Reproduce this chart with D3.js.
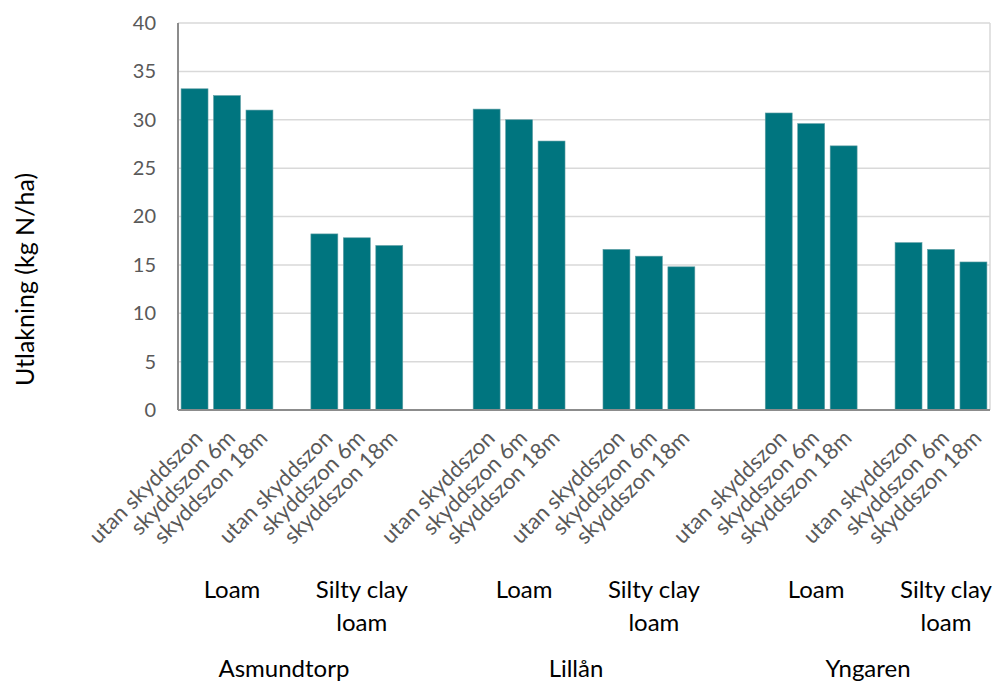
<!DOCTYPE html>
<html>
<head>
<meta charset="utf-8">
<script src="https://cdn.jsdelivr.net/npm/d3@7"></script>
<style>
  body { margin: 0; background: #fff; }
  svg { display: block; font-family: Lato, "Liberation Sans", sans-serif; }
</style>
</head>
<body>
<svg id="chart"></svg>
<script>
var width = 1004
var height = 684

// data
var sites = ["Asmundtorp", "Lillån", "Yngaren"]
var soils = ["Loam", "Silty clay loam"]
var zones = ["utan skyddszon", "skyddszon 6m", "skyddszon 18m"]

var asmundtorpLoam  = [33.2, 32.5, 31.0]
var asmundtorpSilty = [18.2, 17.8, 17.0]
var lillanLoam      = [31.1, 30.0, 27.8]
var lillanSilty     = [16.6, 15.9, 14.8]
var yngarenLoam     = [30.7, 29.6, 27.3]
var yngarenSilty    = [17.3, 16.6, 15.3]

var yTicks = [0, 5, 10, 15, 20, 25, 30, 35, 40]

var seriesBySite = [
	[asmundtorpLoam, asmundtorpSilty],
	[lillanLoam, lillanSilty],
	[yngarenLoam, yngarenSilty]
]

var barColor = "#00757f"
var gridColor = "#d9d9d9"
var axisColor = "#8c8c8c"
var tickColor = "#595959"

var plotLeft = 178, plotRight = 990, plotTop = 23, plotBottom = 410

var svg = d3.select("#chart")
	.attr("width", width)
	.attr("height", height)

// build the category slots, with empty slots between soil groups and sites
var slots = []
var bars = []
var soilGroups = []
var siteGroups = []
var gapCount = 0
sites.forEach(function(site, si){
	var siteKeys = []
	soils.forEach(function(soil, so){
		var soilKeys = []
		zones.forEach(function(zone, zi){
			var key = site + "|" + soil + "|" + zone
			slots.push(key)
			soilKeys.push(key)
			siteKeys.push(key)
			bars.push({key: key, zone: zone, value: seriesBySite[si][so][zi]})
		})
		soilGroups.push({label: soil, keys: soilKeys})
		if (so < soils.length - 1) { slots.push("gap" + (gapCount++)) }
	})
	siteGroups.push({label: site, keys: siteKeys})
	if (si < sites.length - 1) {
		slots.push("gap" + (gapCount++))
		slots.push("gap" + (gapCount++))
	}
})

var xScale = d3.scaleBand()
	.domain(slots)
	.range([plotLeft, plotRight])
	.paddingInner(0.17)
	.paddingOuter(0.095)

var yScale = d3.scaleLinear()
	.domain([0, 40])
	.range([plotBottom, plotTop])

// gridlines
svg.append("g")
	.selectAll("line")
	.data(yTicks.slice(1))
	.join("line")
	.attr("x1", plotLeft)
	.attr("x2", plotRight)
	.attr("y1", function(d){ return yScale(d) })
	.attr("y2", function(d){ return yScale(d) })
	.attr("stroke", gridColor)
	.attr("stroke-width", 1.5)

// right border of plot area
svg.append("line")
	.attr("x1", plotRight).attr("x2", plotRight)
	.attr("y1", plotTop).attr("y2", plotBottom)
	.attr("stroke", gridColor)
	.attr("stroke-width", 1.5)

// bars
svg.append("g")
	.selectAll("rect")
	.data(bars)
	.join("rect")
	.attr("x", function(d){ return xScale(d.key) })
	.attr("width", xScale.bandwidth())
	.attr("y", function(d){ return yScale(d.value) })
	.attr("height", function(d){ return yScale(0) - yScale(d.value) })
	.attr("fill", barColor)
	.attr("stroke", "#5f9ea4")
	.attr("stroke-width", 0.6)

// axis lines
svg.append("line")
	.attr("x1", plotLeft).attr("x2", plotLeft)
	.attr("y1", plotTop).attr("y2", plotBottom)
	.attr("stroke", axisColor)
	.attr("stroke-width", 2)
svg.append("line")
	.attr("x1", plotLeft).attr("x2", plotRight)
	.attr("y1", plotBottom).attr("y2", plotBottom)
	.attr("stroke", axisColor)
	.attr("stroke-width", 2)

// y tick labels
var yAxis = svg.append("g")
	.attr("transform", "translate(" + plotLeft + ",0)")
	.call(d3.axisLeft(yScale).tickValues(yTicks).tickSize(0).tickPadding(22))
yAxis.select(".domain").remove()
yAxis.selectAll("text")
	.attr("fill", tickColor)
	.style("font-size", "20px")
	.style("font-family", "Lato, sans-serif")

// y axis title
svg.append("text")
	.attr("transform", "translate(34," + ((plotTop + plotBottom) / 2 + 63) + ") rotate(-90)")
	.attr("text-anchor", "middle")
	.attr("fill", "#000")
	.style("font-size", "25px")
	.text("Utlakning (kg N/ha)")

// rotated zone labels
svg.append("g")
	.selectAll("text")
	.data(bars)
	.join("text")
	.attr("transform", function(d){
		var cx = xScale(d.key) + xScale.bandwidth() / 2 + 4
		return "translate(" + cx + ",434) rotate(-45)"
	})
	.attr("text-anchor", "end")
	.attr("dy", "0.35em")
	.attr("fill", tickColor)
	.style("font-size", "22px")
	.text(function(d){ return d.zone })

function groupCenter(keys){
	var a = xScale(keys[0])
	var b = xScale(keys[keys.length - 1]) + xScale.bandwidth()
	return (a + b) / 2
}

// soil labels, wrapped like the original
var soilText = svg.append("g")
	.selectAll("text")
	.data(soilGroups)
	.join("text")
	.attr("x", function(d){ return groupCenter(d.keys) + 5 })
	.attr("y", 598)
	.attr("text-anchor", "middle")
	.attr("fill", "#000")
	.style("font-size", "24px")

soilText.each(function(d){
	var el = d3.select(this)
	var maxW = xScale.step() * 4
	var words = d.label.split(" ")
	var lines = []
	var line = []
	var probe = el.append("tspan")
	words.forEach(function(w){
		line.push(w)
		probe.text(line.join(" "))
		if (probe.node().getComputedTextLength() > maxW && line.length > 1) {
			line.pop()
			lines.push(line.join(" "))
			line = [w]
		}
	})
	lines.push(line.join(" "))
	probe.remove()
	var x = el.attr("x")
	lines.forEach(function(l, i){
		el.append("tspan")
			.attr("x", x)
			.attr("dy", i == 0 ? 0 : 33)
			.text(l)
	})
})

// site labels
svg.append("g")
	.selectAll("text")
	.data(siteGroups)
	.join("text")
	.attr("x", function(d){ return groupCenter(d.keys) - 8 })
	.attr("y", 677)
	.attr("text-anchor", "middle")
	.attr("fill", "#000")
	.style("font-size", "24px")
	.text(function(d){ return d.label })
</script>
</body>
</html>
